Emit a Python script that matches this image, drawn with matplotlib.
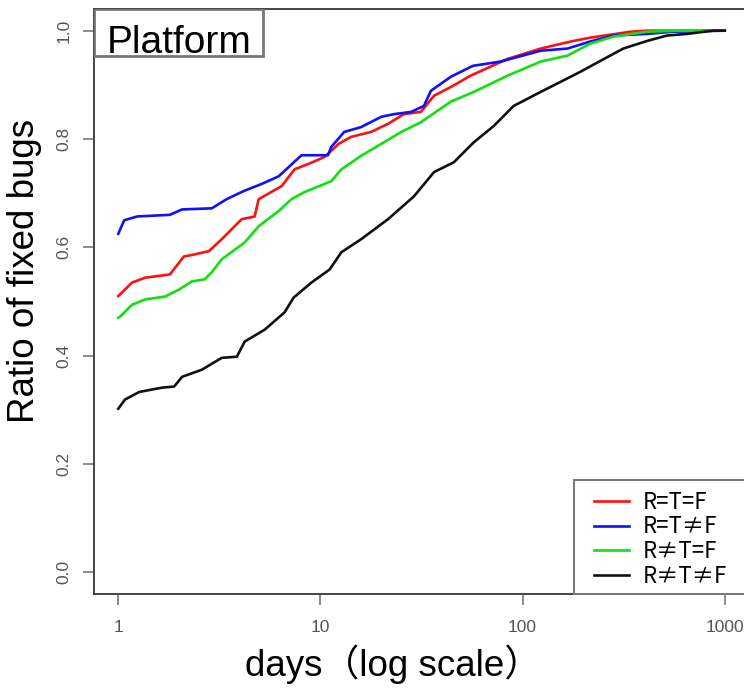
import matplotlib
matplotlib.use("Agg")
import matplotlib.pyplot as plt
from matplotlib.patches import Rectangle

# days since report vs cumulative ratio of fixed bugs
days_rtf = [1.0, 1.02, 1.17, 1.36, 1.80, 2.11, 2.39, 2.81, 3.25, 3.52, 4.08, 4.73, 4.95,
            6.43, 7.45, 8.73, 10.5, 11.3, 12.3, 14.2, 17.8, 21.6, 25.9, 31.4, 36.5, 44.2,
            55.4, 84.4, 123, 178, 216, 340, 413, 1000]
ratio_rtf = [0.51, 0.513, 0.535, 0.544, 0.55, 0.583, 0.587, 0.593, 0.615, 0.628, 0.652,
             0.657, 0.689, 0.713, 0.744, 0.754, 0.767, 0.778, 0.791, 0.804, 0.813, 0.828,
             0.846, 0.85, 0.88, 0.896, 0.917, 0.948, 0.967, 0.981, 0.987, 0.998, 1.0, 1.0]

days_rt_nf = [1.0, 1.07, 1.24, 1.80, 2.07, 2.90, 3.44, 4.18, 5.12, 6.21, 8.06, 10.9, 11.3,
              13.1, 15.9, 20.0, 23.2, 28.1, 32.5, 35.2, 44.2, 49.5, 56.7, 77.9, 123, 167,
              216, 281, 413, 554, 1000]
ratio_rt_nf = [0.625, 0.65, 0.657, 0.66, 0.67, 0.672, 0.689, 0.704, 0.717, 0.731, 0.77,
               0.77, 0.785, 0.813, 0.822, 0.841, 0.846, 0.85, 0.861, 0.889, 0.915, 0.924,
               0.935, 0.943, 0.963, 0.967, 0.98, 0.991, 0.994, 0.998, 1.0]

days_r_ntf = [1.0, 1.02, 1.17, 1.36, 1.70, 2.00, 2.31, 2.68, 2.90, 3.25, 4.22, 4.95, 6.21,
              7.19, 8.34, 11.3, 12.7, 15.9, 20.0, 25.1, 31.4, 44.2, 57.4, 84.4, 123, 167,
              216, 281, 413, 600, 1000]
ratio_r_ntf = [0.47, 0.472, 0.494, 0.504, 0.509, 0.522, 0.537, 0.541, 0.554, 0.578, 0.609,
               0.639, 0.667, 0.689, 0.702, 0.722, 0.744, 0.769, 0.791, 0.813, 0.831, 0.869,
               0.887, 0.917, 0.943, 0.954, 0.976, 0.989, 0.998, 1.0, 1.0]

days_r_nt_nf = [1.0, 1.08, 1.27, 1.65, 1.89, 2.07, 2.59, 3.25, 3.86, 4.22, 5.30, 6.65,
                7.36, 9.03, 11.1, 12.7, 15.9, 21.6, 29.0, 36.5, 45.7, 57.4, 72.0, 90.3,
                123, 193, 242, 315, 413, 518, 650, 873, 1000]
ratio_r_nt_nf = [0.302, 0.319, 0.333, 0.341, 0.343, 0.361, 0.374, 0.396, 0.398, 0.426,
                 0.448, 0.48, 0.507, 0.535, 0.559, 0.591, 0.615, 0.652, 0.694, 0.739, 0.757,
                 0.794, 0.824, 0.861, 0.887, 0.924, 0.944, 0.967, 0.981, 0.991, 0.994,
                 1.0, 1.0]

labels = ["R=T=F", "R=T\u2260F", "R\u2260T=F", "R\u2260T\u2260F"]
colors = ["#ff1010", "#1010ff", "#10e010", "#111111"]

W, H = 744, 689
fig = plt.figure(figsize=(W / 100, H / 100), dpi=100)
ax = fig.add_axes([94 / W, (H - 594) / H, 655 / W, 585 / H])

series = [(days_rtf, ratio_rtf), (days_rt_nf, ratio_rt_nf),
          (days_r_ntf, ratio_r_ntf), (days_r_nt_nf, ratio_r_nt_nf)]
for (x, y), lab, c in zip(series, labels, colors):
    ax.plot(x, y, color=c, lw=1.9, label=lab)

ax.set_xscale("log")
ax.set_xlim(10 ** -0.12, 10 ** 3.12)
ax.set_ylim(-0.04, 1.04)
ax.set_xticks([1, 10, 100, 1000])
ax.set_xticklabels(["1", "10", "100", "1000"])
ax.minorticks_off()
ax.set_yticks([0.0, 0.2, 0.4, 0.6, 0.8, 1.0])
ax.set_yticklabels(["0.0", "0.2", "0.4", "0.6", "0.8", "1.0"], rotation=90, va="center")

for t in ax.get_xticklabels() + ax.get_yticklabels():
    t.set_fontfamily("Liberation Sans")
    t.set_fontsize(12.5)
    t.set_color("#555555")
ax.tick_params(axis="both", direction="out", length=8, width=1.2, color="#777777")
ax.tick_params(axis="x", pad=11)
ax.tick_params(axis="y", pad=8)

for s in ax.spines.values():
    s.set_color("#444444")
    s.set_linewidth(1.4)

lab_font = ["Liberation Sans", "Noto Sans CJK JP", "DejaVu Sans"]
fig.text(25 / W, 1 - 271 / H, "Ratio of fixed bugs", rotation=90, ha="center", va="center",
         fontsize=26.5, family=lab_font)
fig.text(393 / W, 1 - 664 / H, "days\uff08log scale\uff09", ha="center", va="center",
         fontsize=26.5, family=lab_font)

# "Platform" tag in the top-left corner
ax.add_patch(Rectangle((0, 1 - 47 / 585), 169 / 655, 47 / 585, transform=ax.transAxes,
                       facecolor="white", edgecolor="#777777", lw=2, zorder=5))
ax.text(13 / 655, 1 - 44 / 585, "Platform", transform=ax.transAxes, ha="left",
        va="baseline", fontsize=28, family=lab_font, zorder=6)

# legend frame drawn separately so the padding can match the original
ax.add_patch(Rectangle((574 / W, (H - 594) / H), 175 / W, 114 / H, transform=fig.transFigure,
                       facecolor="white", edgecolor="#777777", lw=1.4, zorder=4,
                       clip_on=False))
leg = ax.legend(loc="lower right", bbox_to_anchor=(727 / W, (H - 588) / H),
                bbox_transform=fig.transFigure, borderaxespad=0, borderpad=0,
                frameon=False, handlelength=1.58, handletextpad=0.6, labelspacing=0.08,
                prop={"family": ["Noto Sans CJK JP", "DejaVu Sans"], "size": 16})
leg.set_zorder(6)

fig.savefig("out.png", dpi=100)
